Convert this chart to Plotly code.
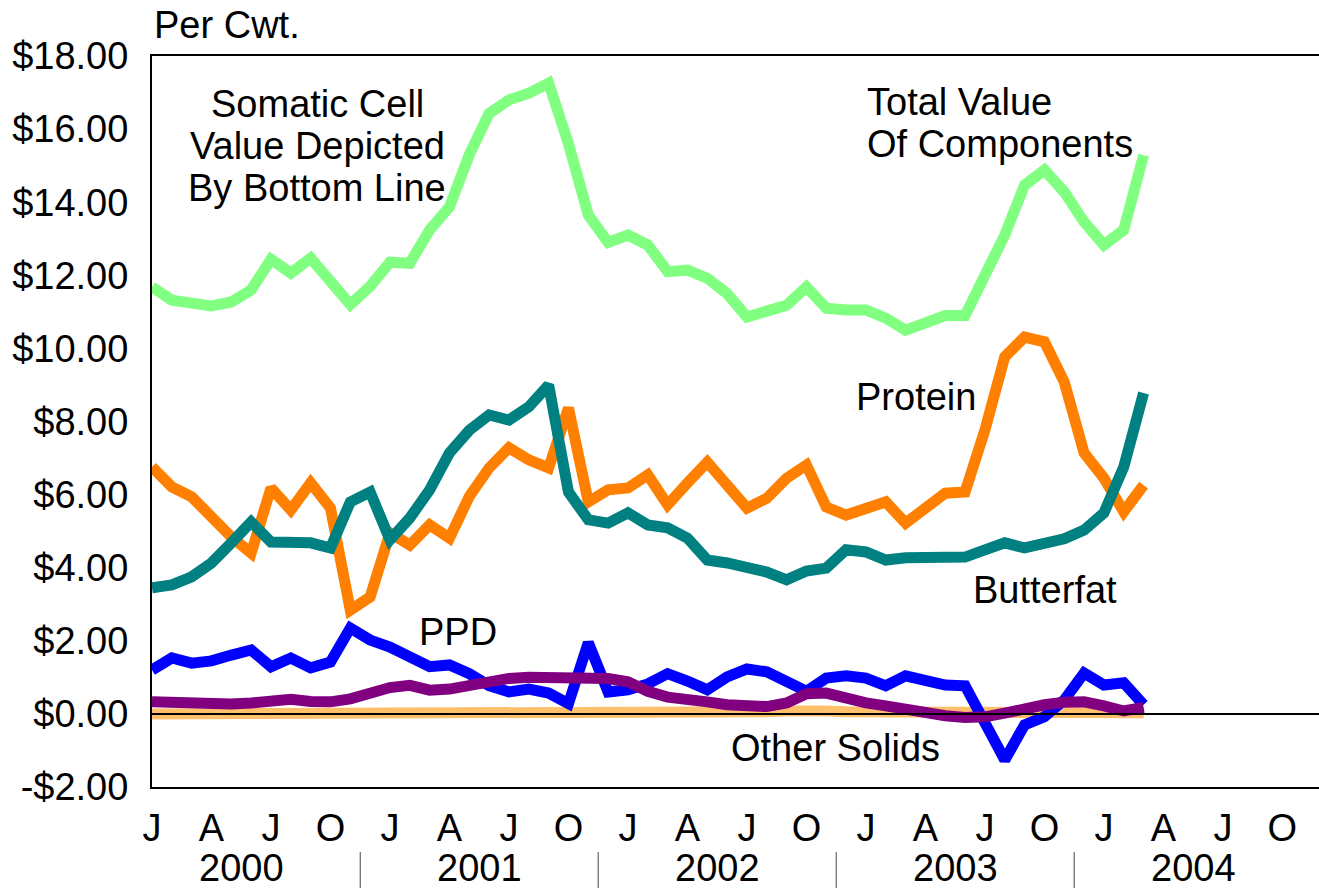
import plotly.graph_objects as go

FONT = "Liberation Sans, Arial, sans-serif"

# month index 0 = Jan 2000, last point = Mar 2004
months = list(range(51))

total_value = [11.68, 11.32, 11.24, 11.16, 11.27, 11.60, 12.44, 12.06, 12.47, 11.80,
               11.20, 11.70, 12.36, 12.33, 13.24, 13.87, 15.30, 16.43, 16.80, 16.98,
               17.26, 15.60, 13.65, 12.90, 13.10, 12.83, 12.10, 12.14, 11.92, 11.50,
               10.86, 11.02, 11.18, 11.68, 11.10, 11.05, 11.05, 10.83, 10.50, 10.70,
               10.90, 10.90, 11.95, 13.10, 14.47, 14.88, 14.28, 13.46, 12.83, 13.24,
               15.29]
protein = [6.76, 6.21, 5.94, 5.39, 4.84, 4.40, 6.18, 5.58, 6.32, 5.63,
           2.84, 3.20, 4.95, 4.62, 5.17, 4.81, 5.95, 6.73, 7.28, 6.95,
           6.73, 8.37, 5.80, 6.13, 6.18, 6.54, 5.72, 6.32, 6.89, 6.26,
           5.63, 5.90, 6.45, 6.81, 5.66, 5.44, 5.66, 5.80, 5.22, 5.63,
           6.04, 6.07, 7.77, 9.77, 10.31, 10.18, 9.08, 7.14, 6.45, 5.53,
           6.26]
butterfat = [3.45, 3.53, 3.75, 4.13, 4.68, 5.25, 4.70, 4.68, 4.68, 4.54,
             5.80, 6.07, 4.76, 5.36, 6.13, 7.14, 7.76, 8.18, 8.04, 8.40,
             9.00, 6.07, 5.31, 5.22, 5.50, 5.17, 5.09, 4.81, 4.21, 4.13,
             4.02, 3.88, 3.67, 3.91, 3.99, 4.49, 4.43, 4.21, 4.27, 4.29,
             4.29, 4.29, 4.49, 4.68, 4.54, 4.65, 4.79, 5.03, 5.50, 6.76,
             8.78]
ppd = [1.20, 1.53, 1.39, 1.45, 1.61, 1.75, 1.29, 1.53, 1.26, 1.42,
       2.35, 2.02, 1.83, 1.53, 1.29, 1.34, 1.10, 0.77, 0.60, 0.68,
       0.57, 0.28, 1.95, 0.60, 0.66, 0.82, 1.10, 0.90, 0.66, 1.01,
       1.23, 1.15, 0.88, 0.62, 0.98, 1.04, 0.98, 0.77, 1.04, 0.88,
       0.79, 0.77, -0.25, -1.26, -0.30, -0.08, 0.38, 1.12, 0.79, 0.85,
       0.25]
somatic_cell = [0.33, 0.30, 0.28, 0.27, 0.27, 0.30, 0.37, 0.40, 0.34, 0.33,
                0.41, 0.57, 0.72, 0.78, 0.65, 0.68, 0.80, 0.90, 0.97, 1.00,
                1.00, 0.98, 0.97, 0.97, 0.88, 0.62, 0.46, 0.42, 0.33, 0.25,
                0.19, 0.20, 0.30, 0.55, 0.57, 0.42, 0.30, 0.22, 0.12, 0.05,
                -0.05, -0.10, -0.08, 0.02, 0.15, 0.25, 0.32, 0.33, 0.22, 0.08,
                0.18]
other_solids = [0.00, 0.00, 0.00, 0.00, 0.00, 0.00, 0.01, 0.01, 0.01, 0.01,
                0.01, 0.01, 0.02, 0.02, 0.02, 0.02, 0.03, 0.03, 0.03, 0.03,
                0.03, 0.03, 0.02, 0.02, 0.02, 0.03, 0.04, 0.05, 0.05, 0.05,
                0.05, 0.06, 0.08, 0.10, 0.08, 0.06, 0.05, 0.05, 0.04, 0.04,
                0.04, 0.03, 0.03, 0.03, 0.04, 0.04, 0.04, 0.04, 0.03, 0.03,
                0.03]

month_ticks = list(range(0, 58, 3))
month_labels = ["J", "A", "J", "O"] * 5
years = ["2000", "2001", "2002", "2003", "2004"]
y_ticks = [-2, 0, 2, 4, 6, 8, 10, 12, 14, 16, 18]
y_labels = ["-$2.00", "$0.00", "$2.00", "$4.00", "$6.00", "$8.00",
            "$10.00", "$12.00", "$14.00", "$16.00", "$18.00"]

SIZE = 38

fig = go.Figure()
for values, name, color in (
    (other_solids, "Other Solids", "#FFC06C"),
    (ppd, "PPD", "#0000FF"),
    (protein, "Protein", "#FF8000"),
    (butterfat, "Butterfat", "#008080"),
    (somatic_cell, "Somatic Cell", "#800080"),
    (total_value, "Total Value Of Components", "#80FF80"),
):
    fig.add_scatter(x=months, y=values, name=name, mode="lines",
                    line={"color": color, "width": 11})

# one annotation per text line so the line spacing can follow the original
notes = [
    ("Somatic Cell", 8.32, 16.69, "center"),
    ("Value Depicted", 8.32, 15.54, "center"),
    ("By Bottom Line", 8.32, 14.39, "center"),
    ("Total Value", 35.96, 16.74, "left"),
    ("Of Components", 35.96, 15.59, "left"),
    ("Protein", 38.53, 8.67, "center"),
    ("Butterfat", 45.03, 3.39, "center"),
    ("PPD", 15.43, 2.24, "center"),
    ("Other Solids", 34.49, -0.93, "center"),
]
for text, x, y, anchor in notes:
    fig.add_annotation(text=text, x=x, y=y, xref="x", yref="y", showarrow=False,
                       xanchor=anchor, yanchor="middle",
                       font={"size": SIZE, "color": "black", "family": FONT})

fig.add_annotation(text="Per Cwt.", x=0, y=1.0, xref="x", yref="paper",
                   xanchor="left", yanchor="bottom", yshift=8, showarrow=False,
                   font={"size": SIZE, "color": "black", "family": FONT})

for k, year in enumerate(years):
    fig.add_annotation(text=year, x=4.5 + 12 * k, y=-0.111, xref="x", yref="paper",
                       xanchor="center", yanchor="middle", showarrow=False,
                       font={"size": SIZE, "color": "black", "family": FONT})
    if k:
        fig.add_shape(type="line", x0=12 * k - 1.5, x1=12 * k - 1.5, xref="x",
                      y0=-0.089, y1=-0.14, yref="paper",
                      line={"color": "#444444", "width": 1})

fig.add_shape(type="line", x0=0, x1=1, xref="paper", y0=0, y1=0, yref="y",
              line={"color": "black", "width": 2}, layer="above")

# the plot runs past the right edge of the window, as in the original
fig.update_layout(
    width=1330, height=888,
    margin={"l": 152, "r": 0, "t": 56, "b": 101},
    paper_bgcolor="white", plot_bgcolor="white",
    showlegend=False,
    font={"family": FONT, "size": SIZE, "color": "black"},
)
fig.update_xaxes(range=[0, 59.4], tickvals=month_ticks, ticktext=month_labels,
                 showgrid=False, zeroline=False, showline=True, mirror=True,
                 linecolor="black", linewidth=2, ticks="", ticklabelstandoff=6,
                 tickfont={"size": SIZE}, automargin=False)
fig.update_yaxes(range=[-2, 18], tickvals=y_ticks, ticktext=y_labels,
                 showgrid=False, zeroline=False, showline=True,
                 linecolor="black", linewidth=2, ticks="", ticklabelstandoff=14,
                 tickfont={"size": SIZE}, automargin=False)

fig.write_html(
    "out.html",
    config={"displayModeBar": False},
    post_script="document.body.style.margin='0';document.body.style.overflow='hidden';",
)
